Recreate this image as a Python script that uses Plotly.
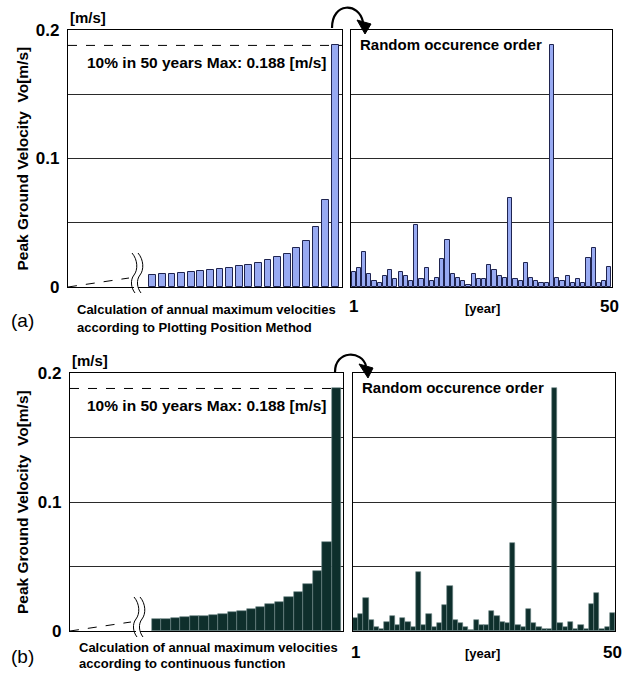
import plotly.graph_objects as go

W, H = 625, 673

# ---------------- data ----------------
rank_top20 = list(range(31, 51))          # ranks 31..50 of the 50 annual maxima
pp_sorted = [0.0091, 0.0098, 0.0104, 0.0111, 0.0117, 0.0124, 0.0132, 0.0137, 0.0148, 0.0160,
             0.0171, 0.0184, 0.0207, 0.0230, 0.0260, 0.0300, 0.0360, 0.0466, 0.0680, 0.1880]
cf_sorted = [0.0093, 0.0095, 0.0103, 0.0108, 0.0114, 0.0119, 0.0126, 0.0134, 0.0145, 0.0155,
             0.0170, 0.0186, 0.0206, 0.0227, 0.0261, 0.0302, 0.0361, 0.0465, 0.0689, 0.1880]
years = list(range(1, 51))
pp_random = [0.0114, 0.0145, 0.0270, 0.0098, 0.0044, 0.0028, 0.0085, 0.0130, 0.0060, 0.0114,
             0.0085, 0.0044, 0.0480, 0.0060, 0.0145, 0.0044, 0.0072, 0.0215, 0.0367, 0.0098,
             0.0072, 0.0044, 0.0015, 0.0098, 0.0060, 0.0060, 0.0170, 0.0130, 0.0085, 0.0072,
             0.0690, 0.0060, 0.0044, 0.0183, 0.0072, 0.0044, 0.0028, 0.0028, 0.1880, 0.0072,
             0.0044, 0.0085, 0.0028, 0.0060, 0.0028, 0.0225, 0.0307, 0.0028, 0.0044, 0.0155]
cf_random = [0.0098, 0.0129, 0.0253, 0.0085, 0.0031, 0.0015, 0.0070, 0.0116, 0.0046, 0.0098,
             0.0070, 0.0031, 0.0460, 0.0046, 0.0129, 0.0031, 0.0060, 0.0199, 0.0351, 0.0085,
             0.0060, 0.0031, 0.0005, 0.0085, 0.0046, 0.0046, 0.0155, 0.0116, 0.0072, 0.0060,
             0.0685, 0.0046, 0.0031, 0.0168, 0.0060, 0.0031, 0.0015, 0.0015, 0.1880, 0.0060,
             0.0031, 0.0072, 0.0015, 0.0046, 0.0015, 0.0212, 0.0294, 0.0015, 0.0031, 0.0140]
y_tickvals = [0, 0.05, 0.1, 0.15, 0.2]
y_ticktext = ["0", "", "0.1", "", "0.2"]
year_tickvals = [1, 50]
year_ticktext = ["1", "50"]

FONT = "Liberation Sans, Arial, sans-serif"
BLUE, BLUE_LINE = "#98aaf2", "#1f2450"
DARK, DARK_LINE = "#0e2f2c", "#6f8886"


def fx(x):
    return x / W


def fy(y):
    return 1 - y / H


def pth(segs):
    out = []
    for s in segs:
        cmd, nums = s[0], s[1:]
        pts = []
        for i in range(0, len(nums), 2):
            pts.append(f"{fx(nums[i]):.5f},{fy(nums[i+1]):.5f}")
        out.append(cmd + " " + " ".join(pts))
    return " ".join(out)


fig = go.Figure()
fig.add_trace(go.Bar(x=rank_top20, y=pp_sorted, xaxis="x", yaxis="y", width=0.72,
                     marker=dict(color=BLUE, line=dict(color=BLUE_LINE, width=1))))
fig.add_trace(go.Bar(x=years, y=pp_random, xaxis="x2", yaxis="y2", width=0.8,
                     marker=dict(color=BLUE, line=dict(color=BLUE_LINE, width=1))))
fig.add_trace(go.Bar(x=rank_top20, y=cf_sorted, xaxis="x3", yaxis="y3", width=1.0,
                     marker=dict(color=DARK, line=dict(color=DARK_LINE, width=0.6))))
fig.add_trace(go.Bar(x=years, y=cf_random, xaxis="x4", yaxis="y4", width=1.0,
                     marker=dict(color=DARK, line=dict(color=DARK_LINE, width=0.6))))

panels = {
    # name: (x0, x1, ytop, ybottom) in pixels
    "1": (68, 342, 30, 287),
    "2": (351, 612, 30, 287),
    "3": (70, 343, 373, 631),
    "4": (353, 615, 373, 631),
}

yaxis_common = dict(range=[0, 0.2], tickvals=y_tickvals, ticktext=y_ticktext, showgrid=True,
                    gridcolor="#2a2a2a", gridwidth=1, showline=True, linecolor="black",
                    linewidth=1.2, mirror=True, zeroline=False, ticks="", automargin=False,
                    tickfont=dict(family=FONT, size=17, color="black", weight="bold"),
                    ticklabelstandoff=4, fixedrange=True)
xaxis_common = dict(showgrid=False, showline=True, linecolor="black", linewidth=1.2,
                    mirror=True, zeroline=False, ticks="", fixedrange=True, automargin=False)

layout = {}
for n, (x0, x1, yt, yb) in panels.items():
    xk = "xaxis" if n == "1" else f"xaxis{n}"
    yk = "yaxis" if n == "1" else f"yaxis{n}"
    xa = dict(xaxis_common, domain=[fx(x0), fx(x1)], anchor="y" if n == "1" else f"y{n}")
    ya = dict(yaxis_common, domain=[fy(yb), fy(yt)], anchor="x" if n == "1" else f"x{n}")
    if n in ("1", "3"):
        start = rank_top20[0] - (8.83 if n == "1" else 9.18)
        xa.update(range=[start, rank_top20[-1] + 0.71], showticklabels=False)
    else:
        xa.update(range=[0.5, 50.5], tickvals=year_tickvals, ticktext=year_ticktext,
                  tickfont=dict(family=FONT, size=17, color="black", weight="bold"),
                  ticklabelstandoff=3 if n == "2" else 5)
        ya.update(showticklabels=False)
    layout[xk] = xa
    layout[yk] = ya

fig.update_layout(**layout)

ann = []
shapes = []


def text(x, y, t, size=13, bold=True, xanchor="left", yanchor="middle", angle=0):
    ann.append(dict(x=fx(x), y=fy(y), xref="paper", yref="paper", text=t, showarrow=False,
                    xanchor=xanchor, yanchor=yanchor, textangle=angle,
                    font=dict(family=FONT, size=size, color="black",
                              weight="bold" if bold else "normal")))


for n, (x0, x1, yt, yb), caption, label, series, offs in [
        ("1", panels["1"], ["Calculation of annual maximum velocities",
                            "according to Plotting Position Method"], "(a)", pp_sorted,
         (23, 40, 33)),
        ("3", panels["3"], ["Calculation of annual maximum velocities",
                            "according to continuous function"], "(b)", cf_sorted,
         (16, 32, 25))]:
    yref = "y" if n == "1" else "y3"
    xref = "x domain" if n == "1" else "x3 domain"
    m = max(series)
    shapes.append(dict(type="line", xref=xref, yref=yref, x0=0, x1=1, y0=m, y1=m,
                       line=dict(color="black", width=1, dash="dash"), layer="below"))
    text(x0, yt - 13, "[m/s]", size=15)
    text(207, yt + 32, f"10% in 50 years Max: {m:.3f} [m/s]", size=15.5, xanchor="center")
    text(22, (yt + yb) / 2, "Peak Ground Velocity  Vo[m/s]", size=15.5, xanchor="center",
         angle=-90)
    text(x0 + 7, yb + offs[0], caption[0], size=13)
    text(x0 + 7, yb + offs[1], caption[1], size=13)
    text(22, yb + offs[2], label, size=19, bold=False, xanchor="center")
    # dashed extrapolation toward the hidden small values
    shapes.append(dict(type="line", xref="paper", yref="paper", x0=fx(x0), y0=fy(yb),
                       x1=fx(x0 + 61), y1=fy(yb - 9),
                       line=dict(color="black", width=1, dash="dash")))
    # axis break
    bx = 132 if n == "1" else 134
    shapes.append(dict(type="rect", xref="paper", yref="paper", x0=fx(bx + 2), x1=fx(bx + 6),
                       y0=fy(yb + 3), y1=fy(yb - 3), fillcolor="white",
                       line=dict(width=0), layer="above"))
    for dx in (0, 6):
        xx = bx + dx
        shapes.append(dict(type="path", xref="paper", yref="paper", layer="above",
                           path=pth([("M", xx, yb - 34),
                                     ("C", xx + 6, yb - 27, xx + 6, yb - 17, xx + 2, yb - 12),
                                     ("C", xx - 2, yb - 7, xx - 1, yb + 1, xx + 3, yb + 6)]),
                           line=dict(color="black", width=1)))

for n in ("2", "4"):
    x0, x1, yt, yb = panels[n]
    text(x0 + 7, yt + 15, "Random occurence order", size=15)
    text(482, yb + 22, "[year]", size=13, xanchor="center")

# curved arrows
for (sx, sy, cy, ex, ey, tri) in [
        (332, 28, 2, 363, 22, [(357, 20), (371, 24), (365, 34)]),
        (335, 372, 350, 366, 366, [(359, 364), (373, 368), (368, 378)])]:
    shapes.append(dict(type="path", xref="paper", yref="paper", layer="above",
                       path=pth([("M", sx, sy), ("C", sx, cy, ex - 4, cy, ex, ey)]),
                       line=dict(color="black", width=2.2)))
    shapes.append(dict(type="path", xref="paper", yref="paper", layer="above",
                       path=pth([("M",) + tri[0], ("L",) + tri[1], ("L",) + tri[2]]) + " Z",
                       fillcolor="black", line=dict(color="black", width=1)))

fig.update_layout(width=W, height=H, margin=dict(l=0, r=0, t=0, b=0, autoexpand=False),
                  paper_bgcolor="white", plot_bgcolor="white", showlegend=False,
                  bargap=0, annotations=ann, shapes=shapes,
                  font=dict(family=FONT, color="black"))

fig.write_html("out.html")
